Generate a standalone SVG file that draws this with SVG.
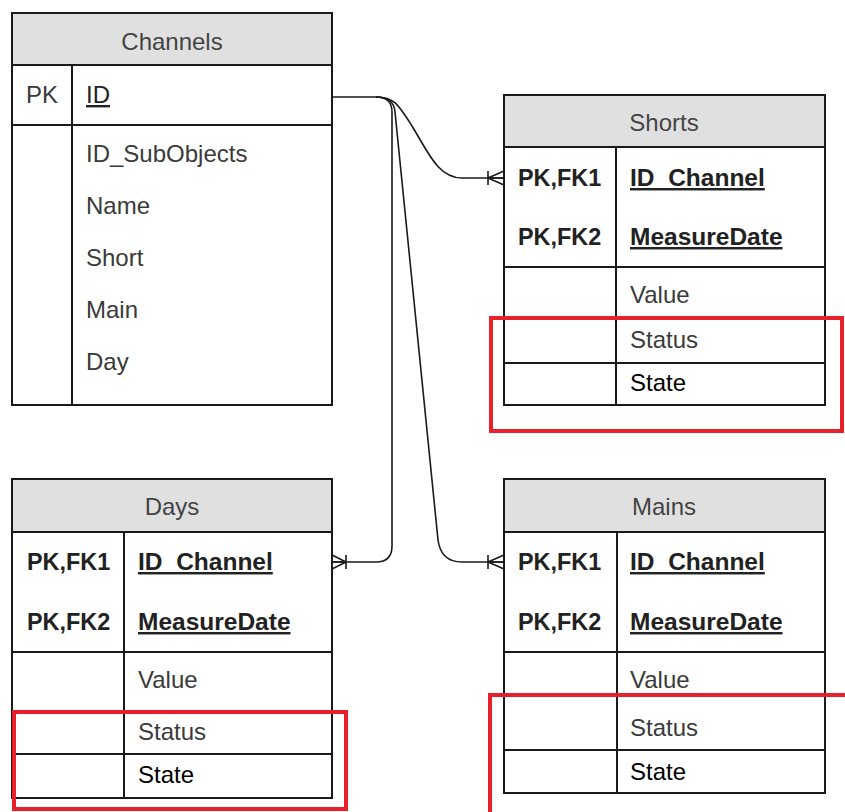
<svg xmlns="http://www.w3.org/2000/svg" width="845" height="812" viewBox="0 0 845 812">
<style>
text{font-family:"Liberation Sans",Arial,sans-serif;font-size:24px;fill:#3a3a3a}
.t{text-anchor:middle;fill:#444}
.k{font-weight:bold;fill:#222;font-size:24.5px}
.p{font-size:23.4px}
.u{text-decoration:underline}
.st{fill:#000}
.box{fill:#fff;stroke:#1a1a1a;stroke-width:2}
.hd{fill:#e0e0e0;stroke:#1a1a1a;stroke-width:2}
.ln{stroke:#1a1a1a;stroke-width:2;fill:none}
.cn{stroke:#1a1a1a;stroke-width:1.6;fill:none}
.red{fill:none;stroke:#e8202a;stroke-width:4}
</style>
<rect width="845" height="812" fill="#fff"/>

<g id="channels">
<rect class="box" x="12" y="13" width="320" height="392"/>
<rect class="hd" x="12" y="13" width="320" height="52"/>
<line class="ln" x1="12" y1="125" x2="332" y2="125"/>
<line class="ln" x1="72" y1="65" x2="72" y2="405"/>
<text class="t" x="172" y="50">Channels</text>
<text x="26" y="103">PK</text>
<text class="u" x="86" y="103" style="fill:#222">ID</text>
<text x="86" y="162">ID_SubObjects</text>
<text x="86" y="214">Name</text>
<text x="86" y="266">Short</text>
<text x="86" y="318">Main</text>
<text x="86" y="370">Day</text>
</g>

<g id="shorts">
<rect class="box" x="504" y="95" width="321" height="310"/>
<rect class="hd" x="504" y="95" width="321" height="52"/>
<line class="ln" x1="504" y1="267" x2="825" y2="267"/>
<line class="ln" x1="504" y1="363" x2="825" y2="363"/>
<line class="ln" x1="616" y1="147" x2="616" y2="405"/>
<text class="t" x="664" y="131">Shorts</text>
<text class="k p" x="518" y="186">PK,FK1</text>
<text class="k p" x="518" y="245">PK,FK2</text>
<text class="k u" x="630" y="186">ID_Channel</text>
<text class="k u" x="630" y="245">MeasureDate</text>
<text x="630" y="303">Value</text>
<text x="630" y="348">Status</text>
<text class="st" x="630" y="391">State</text>
</g>

<g id="days">
<rect class="box" x="12" y="479" width="320" height="319"/>
<rect class="hd" x="12" y="479" width="320" height="53"/>
<line class="ln" x1="12" y1="652" x2="332" y2="652"/>
<line class="ln" x1="12" y1="711" x2="332" y2="711"/>
<line class="ln" x1="12" y1="754" x2="332" y2="754"/>
<line class="ln" x1="124" y1="532" x2="124" y2="798"/>
<text class="t" x="172" y="515">Days</text>
<text class="k p" x="27" y="570">PK,FK1</text>
<text class="k p" x="27" y="630">PK,FK2</text>
<text class="k u" x="138" y="570">ID_Channel</text>
<text class="k u" x="138" y="630">MeasureDate</text>
<text x="138" y="688">Value</text>
<text x="138" y="740">Status</text>
<text class="st" x="138" y="783">State</text>
</g>

<g id="mains">
<rect class="box" x="504" y="479" width="321" height="314"/>
<rect class="hd" x="504" y="479" width="321" height="53"/>
<line class="ln" x1="504" y1="652" x2="825" y2="652"/>
<line class="ln" x1="504" y1="750" x2="825" y2="750"/>
<line class="ln" x1="617" y1="532" x2="617" y2="793"/>
<text class="t" x="664" y="515">Mains</text>
<text class="k p" x="518" y="570">PK,FK1</text>
<text class="k p" x="518" y="630">PK,FK2</text>
<text class="k u" x="630" y="570">ID_Channel</text>
<text class="k u" x="630" y="630">MeasureDate</text>
<text x="630" y="688">Value</text>
<text x="630" y="736">Status</text>
<text class="st" x="630" y="780">State</text>
</g>

<g id="connectors">
<path class="cn" d="M332,97 H376 C394,97 398,104 412,126 C428,152 438,178 462,178 H504"/>
<path class="cn" d="M488,171 V185 M488,178 L504,171 M488,178 H504 M488,178 L504,185"/>
<path class="cn" d="M376,97 Q392,97 392,112 V546 Q392,562 376,562 H332"/>
<path class="cn" d="M346,555 V569 M346,562 L332,555 M346,562 H332 M346,562 L332,569"/>
<path class="cn" d="M376,97 Q394,97 395,112 L438,540 Q441,562 462,562 H504"/>
<path class="cn" d="M488,555 V569 M488,562 L504,555 M488,562 H504 M488,562 L504,569"/>
</g>

<g id="highlights">
<rect class="red" x="491" y="318" width="351" height="113"/>
<rect class="red" x="14" y="712" width="332" height="97"/>
<path class="red" d="M490,812 V695 H845"/>
</g>
</svg>
